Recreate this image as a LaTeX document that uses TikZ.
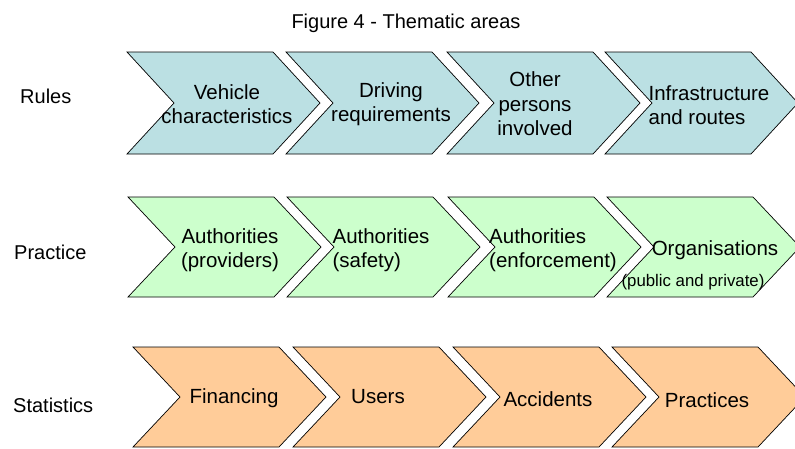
\documentclass[tikz,border=0pt]{standalone}
\usepackage{fontspec}
\setmainfont{Liberation Sans}
\definecolor{rulesblue}{HTML}{BBE0E3}
\definecolor{practicegreen}{HTML}{CCFFCC}
\definecolor{statsorange}{HTML}{FFCC99}
\tikzset{
	chev/.style={draw=black, line width=0.7pt, line join=miter},
	txt/.style={font=\fontsize{20.5}{24.5}\selectfont, align=center, inner sep=0pt},
	small/.style={font=\fontsize{16.8}{20}\selectfont, inner sep=0pt},
	rowlbl/.style={font=\fontsize{20}{24}\selectfont, anchor=west, inner sep=0pt}
}
% one chevron: left, top, height, fill
\newcommand{\chevron}[4]{%
	\draw[chev, fill=#4] (#1,#2) -- ++(146,0) -- ++(47,#3/2) -- ++(-47,#3/2)
		-- ++(-146,0) -- ++(47,-#3/2) -- cycle;}
\begin{document}
\begin{tikzpicture}[x=1pt, y=-1pt]
	\useasboundingbox (0,0) rectangle (795,448);
	%title
	\node[txt, font=\fontsize{20}{24}\selectfont] (title) at (406, 23){Figure 4 - Thematic areas};
	
	%row labels
	\node[rowlbl] (rules) at (20, 96){Rules};
	\node[rowlbl] (practice) at (14, 252){Practice};
	\node[rowlbl] (statistics) at (13, 405){Statistics};
	
	%chevrons
	\foreach \l in {127, 286, 447, 605}{
		\chevron{\l}{52}{102}{rulesblue}
	}
	\foreach \l in {128, 287, 448, 607}{
		\chevron{\l}{197}{100}{practicegreen}
	}
	\foreach \l in {133, 293, 453, 612}{
		\chevron{\l}{347}{100}{statsorange}
	}
	
	%rules
	\node[txt] (vehicle) at (227, 104){Vehicle\\characteristics};
	\node[txt] (driving) at (391, 104){Driving\\requirements};
	\node[txt] (others) at (535, 104){Other\\persons\\involved};
	\node[txt, align=left] (infra) at (709, 105){Infrastructure\\and routes};
	
	%practice
	\node[txt] (provid) at (230, 250){Authorities\\(providers)};
	\node[txt, align=left] (safety) at (381, 250){Authorities\\(safety)};
	\node[txt, align=left] (enforce) at (553, 250){Authorities\\(enforcement)};
	\node[txt] (orgs) at (715, 250){Organisations};
	\node[small] (pubpriv) at (693, 282){(public and private)};
	
	%statistics
	\node[txt] (financ) at (234, 398){Financing};
	\node[txt] (users) at (378, 397){Users};
	\node[txt] (accid) at (548, 399){Accidents};
	\node[txt] (practs) at (707, 400){Practices};
\end{tikzpicture}
\end{document}
